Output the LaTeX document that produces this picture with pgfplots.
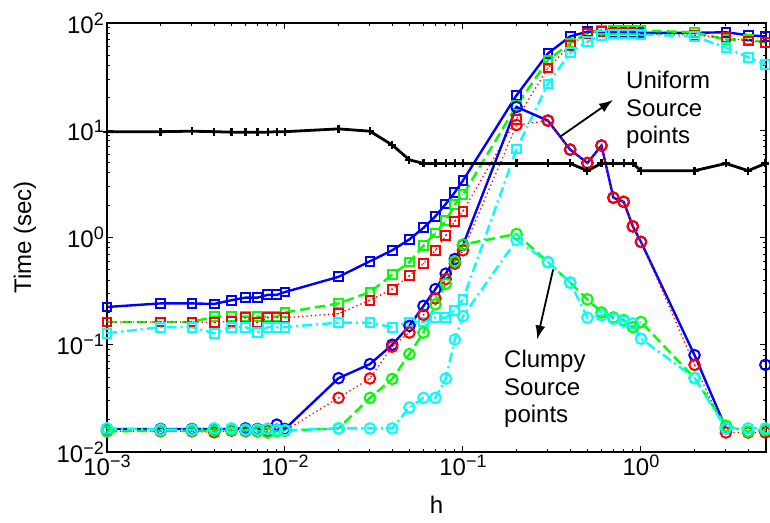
\documentclass[border=0pt]{standalone}
\usepackage{fontspec}
\setmainfont{Liberation Sans}
\usepackage{pgfplots}
\usepackage{pgfplotstable}
\pgfplotsset{compat=1.18}
\usetikzlibrary{arrows.meta}

\definecolor{mblue}{rgb}{0,0,1}
\definecolor{mgreen}{rgb}{0,1,0}
\definecolor{mred}{rgb}{1,0,0}
\definecolor{mcyan}{rgb}{0,1,1}

\newcommand{\ex}[1]{\raisebox{8pt}{\fontsize{18}{18}\selectfont #1}}

\pgfdeclareplotmark{sqd}{%
  \pgfpathrectangle{\pgfqpoint{-\pgfplotmarksize}{-\pgfplotmarksize}}{\pgfqpoint{2\pgfplotmarksize}{2\pgfplotmarksize}}%
  \pgfusepathqstroke
  \pgfpathcircle{\pgfpointorigin}{0.8pt}\pgfusepathqfill}
\pgfdeclareplotmark{cid}{%
  \pgfpathcircle{\pgfpointorigin}{\pgfplotmarksize}\pgfusepathqstroke
  \pgfpathcircle{\pgfpointorigin}{0.8pt}\pgfusepathqfill}

\pgfplotstableread{
x      k     bs    gs    rs     cs     bc     rc     gc     cc
0.001  9.7   0.225 0.163 0.163  0.128  0.0164 0.0156 0.0156 0.0166
0.002  9.7   0.243 0.163 0.163  0.146  0.0164 0.0156 0.0158 0.0162
0.003  9.8   0.243 0.163 0.163  0.146  0.0164 0.0156 0.0158 0.0162
0.004  9.7   0.240 0.183 0.161  0.128  0.0164 0.0153 0.0158 0.0166
0.005  9.6   0.260 0.183 0.166  0.146  0.0164 0.0158 0.0160 0.0166
0.006  9.6   0.275 0.183 0.179  0.146  0.0166 0.0156 0.0158 0.0162
0.007  9.6   0.275 0.183 0.161  0.130  0.0164 0.0156 0.0156 0.0162
0.008  9.6   0.292 0.183 0.179  0.146  0.0164 0.0156 0.0152 0.0164
0.009  9.7   0.292 0.183 0.179  0.146  0.0180 0.0158 0.0156 0.0160
0.010  9.7   0.310 0.200 0.179  0.146  0.0164 0.0158 0.0158 0.0160
0.02  10.3   0.43  0.243 0.195  0.161  0.0488 0.032  0.0166 0.0166
0.03   9.8   0.60  0.31  0.26   0.161  0.066  0.0485 0.032  0.0166
0.04   7.3   0.76  0.45  0.33   0.146  0.10   0.096  0.048  0.0166
0.05   5.3   0.96  0.59  0.44   0.163  0.15   0.13   0.082  0.026
0.06   4.9   1.23  0.84  0.57   0.163  0.23   0.19   0.13   0.032
0.07   4.9   1.58  1.10  0.76   0.179  0.33   0.27   0.238  0.032
0.08   4.9   2.05  1.43  1.04   0.179  0.46   0.41   0.37   0.0485
0.09   4.9   2.64  2.03  1.42   0.21   0.63   0.57   0.60   0.112
0.1    4.9   3.4   2.5   1.76   0.265  0.85   0.76   0.86   0.185
0.2    4.9   21.2  17    12.7   6.7    16.5   11.2   1.08   0.95
0.3    4.9   52    45    38     27     12.3   12.3   0.59   0.59
0.4    4.9   75    65    62     53     6.6    6.6    0.38   0.38
0.5    4.2   83    80    80     67     4.95   4.95   0.265  0.179
0.6    4.9   83    86    84     77     7.2    7.2    0.20   0.188
0.7    4.9   82    86    80     79     2.35   2.35   0.18   0.175
0.8    4.9   82    86    80     79     2.15   2.15   0.17   0.166
0.9    4.9   82    86    80     79     1.27   1.27   0.146  0.158
1      4.2   81    85    79     78     0.91   0.91   0.163  0.114
2      4.2   81    82    77     75     0.080  0.065  0.049  0.049
3      4.9   82    70    73     59     0.0166 0.0152 0.0176 0.0166
4      4.2   77    70    68     48     nan    0.0152 0.0155 0.0166
5      4.9   75    66    66     41     0.065  0.0152 0.016  0.0166
}\data

\begin{document}
\begin{tikzpicture}
\useasboundingbox (-107pt,-70pt) rectangle (663pt,452pt);
\begin{axis}[
  scale only axis, width=659pt, height=429pt,
  at={(0,0)}, anchor=south west,
  xmode=log, ymode=log,
  xmin=1e-3, xmax=5.04, ymin=1e-2, ymax=1e2,
  xtick={1e-3,1e-2,1e-1,1},
  xticklabels={10\ex{−3},10\ex{−2},10\ex{−1},10\ex{0}},
  ytick={1e-2,1e-1,1,10,100},
  yticklabels={10\ex{−2},10\ex{−1},10\ex{0},10\ex{1},10\ex{2}},
  minor xtick={2e-3,3e-3,4e-3,5e-3,6e-3,7e-3,8e-3,9e-3,2e-2,3e-2,4e-2,5e-2,6e-2,7e-2,8e-2,9e-2,0.2,0.3,0.4,0.5,0.6,0.7,0.8,0.9,2,3,4,5},
  minor ytick={0.02,0.03,0.04,0.05,0.06,0.07,0.08,0.09,0.2,0.3,0.4,0.5,0.6,0.7,0.8,0.9,2,3,4,5,6,7,8,9,20,30,40,50,60,70,80,90},
  tick align=inside, major tick length=6pt, minor tick length=3pt,
  every tick/.style={black, line width=1pt},
  axis line style={line width=1.8pt},
  tick label style={font=\fontsize{24}{28}\selectfont},
  xticklabel style={inner sep=1pt, yshift=-2pt},
  yticklabel style={inner sep=1pt, xshift=-2pt},
  label style={font=\fontsize{24}{28}\selectfont},
  xlabel={h}, ylabel={Time (sec)},
  xlabel style={at={(axis description cs:0.5,-0.1235)}, anchor=center},
  ylabel style={at={(axis description cs:-0.1244,0.5)}, anchor=center},
  clip=false,
  unbounded coords=jump,
]
\addplot[mblue, line width=2.4pt, mark=sqd, mark size=4.4pt, mark options={solid, line width=2pt}] table[x=x, y=bs] {\data};
\addplot[mgreen, line width=2.4pt, dash pattern=on 10pt off 5pt, mark=sqd, mark size=4.4pt, mark options={solid, line width=2pt}] table[x=x, y=gs] {\data};
\addplot[mred, line width=1.3pt, dash pattern=on 1.3pt off 3pt, mark=sqd, mark size=4.4pt, mark options={solid, line width=2pt}] table[x=x, y=rs] {\data};
\addplot[mcyan, line width=2.4pt, dash pattern=on 10pt off 4pt on 2pt off 4pt, mark=sqd, mark size=4.4pt, mark options={solid, line width=2pt}] table[x=x, y=cs] {\data};
\addplot[mblue, line width=2.4pt, mark=cid, mark size=5.3pt, mark options={solid, line width=2pt}] table[x=x, y=bc] {\data};
\addplot[mred, line width=1.3pt, dash pattern=on 1.3pt off 3pt, mark=cid, mark size=5.3pt, mark options={solid, line width=2pt}] table[x=x, y=rc] {\data};
\addplot[mgreen, line width=2.4pt, dash pattern=on 10pt off 5pt, mark=cid, mark size=5.3pt, mark options={solid, line width=2pt}] table[x=x, y=gc] {\data};
\addplot[mcyan, line width=2.4pt, dash pattern=on 10pt off 4pt on 2pt off 4pt, mark=cid, mark size=5.3pt, mark options={solid, line width=2pt}] table[x=x, y=cc] {\data};
\addplot[black, line width=2.8pt, mark=+, mark size=4pt, mark options={solid, line width=2.2pt}] table[x=x, y=k] {\data};

\draw[-{Latex[length=14pt,width=10pt]}, line width=1.8pt] (axis cs:0.351,8.7) -- (axis cs:0.697,19.2);
\draw[-{Latex[length=14pt,width=10pt]}, line width=1.8pt] (axis cs:0.321,0.503) -- (axis cs:0.261,0.112);
\node[anchor=west, align=left, inner sep=0pt, font=\fontsize{24}{27.5}\selectfont] at (axis cs:0.824,15.5) {Uniform\\Source\\points};
\node[anchor=west, align=left, inner sep=0pt, font=\fontsize{24}{27.5}\selectfont] at (axis cs:0.17,0.0386) {Clumpy\\Source\\points};
\end{axis}
\end{tikzpicture}
\end{document}
